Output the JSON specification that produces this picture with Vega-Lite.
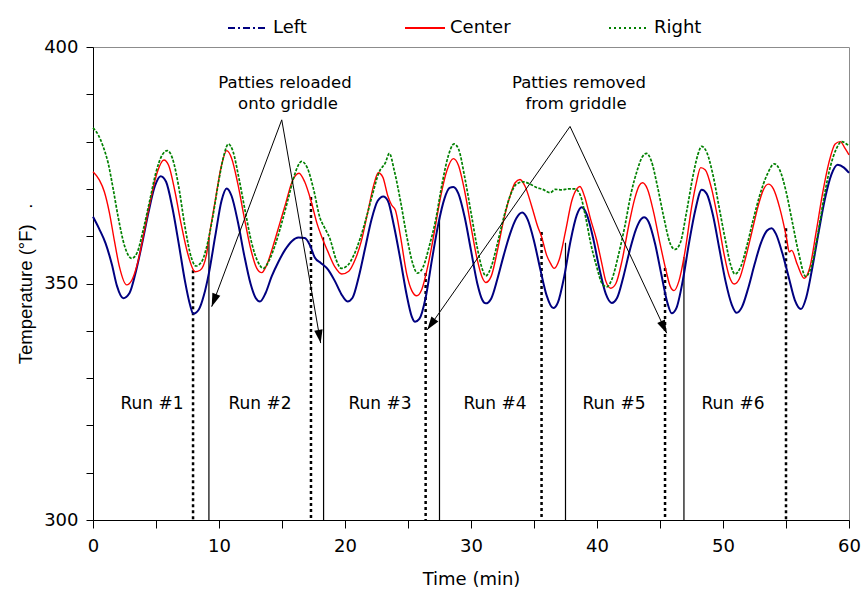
{
  "$schema": "https://vega.github.io/schema/vega-lite/v6.json",
  "width": 756,
  "height": 473,
  "autosize": {"type": "none"},
  "padding": {"left": 93, "top": 47, "right": 17, "bottom": 76},
  "background": "white",
  "config": {
    "font": "DejaVu Sans",
    "view": {"stroke": "#8c8c8c", "strokeWidth": 1},
    "axis": {"grid": false, "domainColor": "black", "tickColor": "black", "labelColor": "black", "titleColor": "black", "labelFont": "DejaVu Sans", "labelFontSize": 18, "titleFont": "DejaVu Sans", "titleFontSize": 18, "titleFontWeight": "normal", "labelOverlap": false, "labelFlush": false}
  },
  "datasets": {
    "temps": [
      {"s":"Left","t":0,"v":364.1},{"s":"Left","t":0.5,"v":361.5},{"s":"Left","t":1.0,"v":358.5},{"s":"Left","t":1.5,"v":354},{"s":"Left","t":1.9,"v":349.5},{"s":"Left","t":2.4,"v":346.9},{"s":"Left","t":2.9,"v":348},{"s":"Left","t":3.4,"v":352.5},{"s":"Left","t":3.9,"v":358.5},{"s":"Left","t":4.4,"v":365},{"s":"Left","t":4.9,"v":370.5},{"s":"Left","t":5.37,"v":372.7},{"s":"Left","t":5.8,"v":371.5},{"s":"Left","t":6.3,"v":366},{"s":"Left","t":6.8,"v":358.5},{"s":"Left","t":7.3,"v":350.5},{"s":"Left","t":7.7,"v":345.5},{"s":"Left","t":7.96,"v":343.6},{"s":"Left","t":8.4,"v":344.5},{"s":"Left","t":8.8,"v":347.5},{"s":"Left","t":9.2,"v":352.2},{"s":"Left","t":9.7,"v":360},{"s":"Left","t":10.2,"v":367.5},{"s":"Left","t":10.61,"v":370.1},{"s":"Left","t":11.0,"v":368.5},{"s":"Left","t":11.5,"v":363},{"s":"Left","t":12.0,"v":356},{"s":"Left","t":12.5,"v":350},{"s":"Left","t":12.9,"v":347},{"s":"Left","t":13.25,"v":346.2},{"s":"Left","t":13.7,"v":348},{"s":"Left","t":14.18,"v":351.5},{"s":"Left","t":14.7,"v":354.5},{"s":"Left","t":15.24,"v":357.1},{"s":"Left","t":15.8,"v":359},{"s":"Left","t":16.3,"v":359.7},{"s":"Left","t":16.8,"v":359.6},{"s":"Left","t":17.2,"v":358.2},{"s":"Left","t":17.6,"v":355.5},{"s":"Left","t":18.1,"v":354.3},{"s":"Left","t":18.67,"v":352.9},{"s":"Left","t":19.2,"v":350.5},{"s":"Left","t":19.7,"v":347.8},{"s":"Left","t":20.2,"v":346.2},{"s":"Left","t":20.6,"v":347},{"s":"Left","t":21.1,"v":351.5},{"s":"Left","t":21.6,"v":357.5},{"s":"Left","t":22.1,"v":363.5},{"s":"Left","t":22.6,"v":367.5},{"s":"Left","t":23.04,"v":368.4},{"s":"Left","t":23.4,"v":367.5},{"s":"Left","t":23.9,"v":362},{"s":"Left","t":24.4,"v":355},{"s":"Left","t":24.9,"v":347.5},{"s":"Left","t":25.3,"v":343},{"s":"Left","t":25.56,"v":341.9},{"s":"Left","t":25.9,"v":342.5},{"s":"Left","t":26.4,"v":347},{"s":"Left","t":26.9,"v":355},{"s":"Left","t":27.4,"v":362.5},{"s":"Left","t":27.9,"v":368},{"s":"Left","t":28.3,"v":370.2},{"s":"Left","t":28.6,"v":370.4},{"s":"Left","t":29.0,"v":369},{"s":"Left","t":29.5,"v":364},{"s":"Left","t":30.0,"v":357},{"s":"Left","t":30.5,"v":350},{"s":"Left","t":30.9,"v":346.5},{"s":"Left","t":31.17,"v":345.8},{"s":"Left","t":31.6,"v":346.8},{"s":"Left","t":32.1,"v":351},{"s":"Left","t":32.6,"v":356},{"s":"Left","t":33.1,"v":360.5},{"s":"Left","t":33.6,"v":363.8},{"s":"Left","t":34.07,"v":365},{"s":"Left","t":34.5,"v":363.5},{"s":"Left","t":35.0,"v":359},{"s":"Left","t":35.5,"v":353},{"s":"Left","t":36.0,"v":347.5},{"s":"Left","t":36.53,"v":344.8},{"s":"Left","t":36.9,"v":346},{"s":"Left","t":37.4,"v":351.5},{"s":"Left","t":37.9,"v":359},{"s":"Left","t":38.4,"v":364.5},{"s":"Left","t":38.78,"v":366.1},{"s":"Left","t":39.2,"v":364.5},{"s":"Left","t":39.7,"v":359.5},{"s":"Left","t":40.2,"v":353},{"s":"Left","t":40.7,"v":347.8},{"s":"Left","t":41.17,"v":345.9},{"s":"Left","t":41.6,"v":347},{"s":"Left","t":42.1,"v":351.5},{"s":"Left","t":42.6,"v":357},{"s":"Left","t":43.1,"v":361.5},{"s":"Left","t":43.5,"v":363.6},{"s":"Left","t":43.73,"v":364},{"s":"Left","t":44.1,"v":363},{"s":"Left","t":44.6,"v":358.5},{"s":"Left","t":45.1,"v":352},{"s":"Left","t":45.6,"v":345.8},{"s":"Left","t":45.93,"v":343.7},{"s":"Left","t":46.3,"v":344.8},{"s":"Left","t":46.8,"v":350.5},{"s":"Left","t":47.3,"v":358.5},{"s":"Left","t":47.8,"v":365.5},{"s":"Left","t":48.31,"v":369.8},{"s":"Left","t":48.7,"v":369},{"s":"Left","t":49.2,"v":364.5},{"s":"Left","t":49.7,"v":357.5},{"s":"Left","t":50.2,"v":350.5},{"s":"Left","t":50.7,"v":345.5},{"s":"Left","t":51.09,"v":343.8},{"s":"Left","t":51.5,"v":345},{"s":"Left","t":52.0,"v":349},{"s":"Left","t":52.5,"v":354},{"s":"Left","t":53.0,"v":358.5},{"s":"Left","t":53.5,"v":361.2},{"s":"Left","t":53.86,"v":361.7},{"s":"Left","t":54.2,"v":360.5},{"s":"Left","t":54.7,"v":356.5},{"s":"Left","t":55.2,"v":351.5},{"s":"Left","t":55.7,"v":346.5},{"s":"Left","t":56.19,"v":344.6},{"s":"Left","t":56.6,"v":347},{"s":"Left","t":57.1,"v":353.5},{"s":"Left","t":57.6,"v":361},{"s":"Left","t":58.1,"v":368},{"s":"Left","t":58.6,"v":373},{"s":"Left","t":59.1,"v":375.1},{"s":"Left","t":59.6,"v":374.5},{"s":"Left","t":60,"v":373.4},
      {"s":"Center","t":0,"v":373.6},{"s":"Center","t":0.5,"v":371.9},{"s":"Center","t":0.9,"v":369.4},{"s":"Center","t":1.3,"v":365},{"s":"Center","t":1.7,"v":359},{"s":"Center","t":2.1,"v":353.5},{"s":"Center","t":2.67,"v":349.7},{"s":"Center","t":3.1,"v":350.8},{"s":"Center","t":3.6,"v":355},{"s":"Center","t":4.1,"v":361.5},{"s":"Center","t":4.6,"v":368},{"s":"Center","t":5.1,"v":373.5},{"s":"Center","t":5.63,"v":376.1},{"s":"Center","t":6.0,"v":375},{"s":"Center","t":6.5,"v":369.5},{"s":"Center","t":7.0,"v":362.5},{"s":"Center","t":7.5,"v":356.5},{"s":"Center","t":8.1,"v":352.5},{"s":"Center","t":8.5,"v":352.8},{"s":"Center","t":9.0,"v":356},{"s":"Center","t":9.2,"v":359.6},{"s":"Center","t":9.7,"v":367.5},{"s":"Center","t":10.2,"v":375},{"s":"Center","t":10.61,"v":378.1},{"s":"Center","t":11.0,"v":376.5},{"s":"Center","t":11.5,"v":371},{"s":"Center","t":12.0,"v":364},{"s":"Center","t":12.5,"v":357.5},{"s":"Center","t":13.0,"v":353.2},{"s":"Center","t":13.39,"v":352.3},{"s":"Center","t":13.8,"v":354},{"s":"Center","t":14.3,"v":358},{"s":"Center","t":14.8,"v":362.5},{"s":"Center","t":15.3,"v":367},{"s":"Center","t":15.8,"v":371.5},{"s":"Center","t":16.35,"v":373.3},{"s":"Center","t":16.8,"v":371.5},{"s":"Center","t":17.3,"v":367.5},{"s":"Center","t":17.8,"v":362.5},{"s":"Center","t":18.15,"v":359.9},{"s":"Center","t":18.6,"v":357},{"s":"Center","t":19.2,"v":353.5},{"s":"Center","t":19.74,"v":352},{"s":"Center","t":20.3,"v":352.6},{"s":"Center","t":20.8,"v":355},{"s":"Center","t":21.3,"v":359},{"s":"Center","t":21.8,"v":365},{"s":"Center","t":22.3,"v":371},{"s":"Center","t":22.64,"v":373.4},{"s":"Center","t":23.0,"v":372.5},{"s":"Center","t":23.4,"v":368.5},{"s":"Center","t":23.7,"v":366.6},{"s":"Center","t":24.0,"v":365.5},{"s":"Center","t":24.4,"v":360},{"s":"Center","t":24.9,"v":352},{"s":"Center","t":25.3,"v":348.5},{"s":"Center","t":25.69,"v":347.4},{"s":"Center","t":26.1,"v":348.8},{"s":"Center","t":26.6,"v":354},{"s":"Center","t":27.1,"v":361},{"s":"Center","t":27.6,"v":368.5},{"s":"Center","t":28.1,"v":374},{"s":"Center","t":28.6,"v":376.4},{"s":"Center","t":29.0,"v":375},{"s":"Center","t":29.5,"v":369.5},{"s":"Center","t":30.0,"v":362},{"s":"Center","t":30.5,"v":355},{"s":"Center","t":30.9,"v":351.2},{"s":"Center","t":31.17,"v":350.2},{"s":"Center","t":31.6,"v":351.5},{"s":"Center","t":32.1,"v":357},{"s":"Center","t":32.6,"v":363.5},{"s":"Center","t":33.1,"v":368.5},{"s":"Center","t":33.5,"v":371.3},{"s":"Center","t":33.89,"v":372},{"s":"Center","t":34.3,"v":370.5},{"s":"Center","t":34.8,"v":366.5},{"s":"Center","t":35.3,"v":362},{"s":"Center","t":35.6,"v":359.9},{"s":"Center","t":36.0,"v":356},{"s":"Center","t":36.3,"v":354.3},{"s":"Center","t":36.6,"v":353.2},{"s":"Center","t":37.0,"v":355},{"s":"Center","t":37.5,"v":361},{"s":"Center","t":38.0,"v":367.5},{"s":"Center","t":38.4,"v":370},{"s":"Center","t":38.65,"v":370.5},{"s":"Center","t":39.0,"v":368.5},{"s":"Center","t":39.5,"v":363.5},{"s":"Center","t":39.97,"v":359.2},{"s":"Center","t":40.4,"v":354},{"s":"Center","t":40.7,"v":350.5},{"s":"Center","t":41.09,"v":349},{"s":"Center","t":41.5,"v":350},{"s":"Center","t":42.0,"v":355},{"s":"Center","t":42.5,"v":362},{"s":"Center","t":43.0,"v":368},{"s":"Center","t":43.35,"v":370.7},{"s":"Center","t":43.62,"v":371.3},{"s":"Center","t":44.0,"v":370},{"s":"Center","t":44.5,"v":365},{"s":"Center","t":45.0,"v":358.5},{"s":"Center","t":45.5,"v":352.5},{"s":"Center","t":45.8,"v":349.5},{"s":"Center","t":46.11,"v":348.5},{"s":"Center","t":46.5,"v":350.5},{"s":"Center","t":47.0,"v":357},{"s":"Center","t":47.5,"v":366},{"s":"Center","t":47.9,"v":371.5},{"s":"Center","t":48.23,"v":374.5},{"s":"Center","t":48.6,"v":374},{"s":"Center","t":49.1,"v":370},{"s":"Center","t":49.6,"v":363.5},{"s":"Center","t":50.1,"v":356},{"s":"Center","t":50.5,"v":351.5},{"s":"Center","t":50.9,"v":349.9},{"s":"Center","t":51.3,"v":351},{"s":"Center","t":51.8,"v":355.5},{"s":"Center","t":52.3,"v":361},{"s":"Center","t":52.8,"v":366.5},{"s":"Center","t":53.2,"v":369.8},{"s":"Center","t":53.6,"v":371},{"s":"Center","t":54.0,"v":370},{"s":"Center","t":54.5,"v":366},{"s":"Center","t":55.05,"v":359.5},{"s":"Center","t":55.25,"v":356.7},{"s":"Center","t":55.45,"v":357},{"s":"Center","t":55.9,"v":354},{"s":"Center","t":56.45,"v":351.1},{"s":"Center","t":56.9,"v":353.5},{"s":"Center","t":57.4,"v":361},{"s":"Center","t":57.9,"v":369},{"s":"Center","t":58.4,"v":375.5},{"s":"Center","t":58.9,"v":379.5},{"s":"Center","t":59.3,"v":380},{"s":"Center","t":59.7,"v":378.5},{"s":"Center","t":60,"v":377.2},
      {"s":"Right","t":0,"v":382.9},{"s":"Right","t":0.4,"v":381.5},{"s":"Right","t":0.8,"v":379},{"s":"Right","t":1.2,"v":375.5},{"s":"Right","t":1.6,"v":370},{"s":"Right","t":2.0,"v":364},{"s":"Right","t":2.5,"v":358},{"s":"Right","t":3.07,"v":355.3},{"s":"Right","t":3.5,"v":356.5},{"s":"Right","t":4.0,"v":361.5},{"s":"Right","t":4.5,"v":367.5},{"s":"Right","t":5.0,"v":373.5},{"s":"Right","t":5.5,"v":377.2},{"s":"Right","t":5.9,"v":378.1},{"s":"Right","t":6.3,"v":376.5},{"s":"Right","t":6.8,"v":370.5},{"s":"Right","t":7.3,"v":362},{"s":"Right","t":7.8,"v":355.5},{"s":"Right","t":8.17,"v":353.7},{"s":"Right","t":8.6,"v":354.5},{"s":"Right","t":9.0,"v":357.5},{"s":"Right","t":9.5,"v":364},{"s":"Right","t":10.0,"v":372},{"s":"Right","t":10.4,"v":377.2},{"s":"Right","t":10.74,"v":379.5},{"s":"Right","t":11.1,"v":378},{"s":"Right","t":11.6,"v":372},{"s":"Right","t":12.1,"v":365},{"s":"Right","t":12.6,"v":358.5},{"s":"Right","t":13.1,"v":354.5},{"s":"Right","t":13.52,"v":353.2},{"s":"Right","t":14.0,"v":355},{"s":"Right","t":14.5,"v":358.5},{"s":"Right","t":15.0,"v":363},{"s":"Right","t":15.5,"v":368},{"s":"Right","t":16.0,"v":373},{"s":"Right","t":16.56,"v":375.8},{"s":"Right","t":17.0,"v":374.5},{"s":"Right","t":17.5,"v":370},{"s":"Right","t":18.0,"v":364},{"s":"Right","t":18.4,"v":361.7},{"s":"Right","t":18.8,"v":359.5},{"s":"Right","t":19.3,"v":355},{"s":"Right","t":19.7,"v":353.2},{"s":"Right","t":20.2,"v":353.8},{"s":"Right","t":20.7,"v":356},{"s":"Right","t":21.2,"v":359.5},{"s":"Right","t":21.7,"v":364},{"s":"Right","t":22.2,"v":369},{"s":"Right","t":22.7,"v":373.5},{"s":"Right","t":23.2,"v":375.5},{"s":"Right","t":23.52,"v":377.5},{"s":"Right","t":23.9,"v":374},{"s":"Right","t":24.4,"v":367.5},{"s":"Right","t":24.9,"v":360},{"s":"Right","t":25.4,"v":354},{"s":"Right","t":25.74,"v":352.2},{"s":"Right","t":26.2,"v":353.5},{"s":"Right","t":26.7,"v":358},{"s":"Right","t":27.2,"v":363.5},{"s":"Right","t":27.7,"v":371},{"s":"Right","t":28.2,"v":377},{"s":"Right","t":28.65,"v":379.5},{"s":"Right","t":29.0,"v":378.5},{"s":"Right","t":29.5,"v":372.5},{"s":"Right","t":30.0,"v":365},{"s":"Right","t":30.5,"v":357.5},{"s":"Right","t":30.9,"v":353},{"s":"Right","t":31.17,"v":351.6},{"s":"Right","t":31.6,"v":353.5},{"s":"Right","t":32.1,"v":358.5},{"s":"Right","t":32.6,"v":364},{"s":"Right","t":33.1,"v":368.5},{"s":"Right","t":33.6,"v":371},{"s":"Right","t":34.15,"v":371.5},{"s":"Right","t":34.7,"v":371},{"s":"Right","t":35.2,"v":370.3},{"s":"Right","t":35.7,"v":369.9},{"s":"Right","t":36.27,"v":369.2},{"s":"Right","t":36.7,"v":369.9},{"s":"Right","t":37.2,"v":369.8},{"s":"Right","t":37.7,"v":370},{"s":"Right","t":38.25,"v":370},{"s":"Right","t":38.7,"v":368.5},{"s":"Right","t":39.1,"v":364},{"s":"Right","t":39.5,"v":358.5},{"s":"Right","t":39.97,"v":353.6},{"s":"Right","t":40.4,"v":350},{"s":"Right","t":40.77,"v":349.3},{"s":"Right","t":41.2,"v":351},{"s":"Right","t":41.7,"v":356},{"s":"Right","t":42.2,"v":362},{"s":"Right","t":42.7,"v":369},{"s":"Right","t":43.2,"v":374},{"s":"Right","t":43.6,"v":376.8},{"s":"Right","t":43.94,"v":377.5},{"s":"Right","t":44.3,"v":376},{"s":"Right","t":44.8,"v":370.5},{"s":"Right","t":45.3,"v":364},{"s":"Right","t":45.8,"v":358.5},{"s":"Right","t":46.19,"v":357.2},{"s":"Right","t":46.6,"v":358.5},{"s":"Right","t":47.1,"v":365},{"s":"Right","t":47.6,"v":372.5},{"s":"Right","t":48.0,"v":377.2},{"s":"Right","t":48.3,"v":379},{"s":"Right","t":48.7,"v":377.8},{"s":"Right","t":49.2,"v":373},{"s":"Right","t":49.7,"v":366},{"s":"Right","t":50.2,"v":359},{"s":"Right","t":50.6,"v":354},{"s":"Right","t":50.95,"v":352},{"s":"Right","t":51.4,"v":353.5},{"s":"Right","t":51.9,"v":358},{"s":"Right","t":52.4,"v":363.5},{"s":"Right","t":52.9,"v":368.5},{"s":"Right","t":53.5,"v":373},{"s":"Right","t":54.07,"v":375.3},{"s":"Right","t":54.5,"v":374},{"s":"Right","t":55.0,"v":369.5},{"s":"Right","t":55.5,"v":363},{"s":"Right","t":56.0,"v":356.5},{"s":"Right","t":56.56,"v":351.5},{"s":"Right","t":57.0,"v":353.5},{"s":"Right","t":57.5,"v":360},{"s":"Right","t":58.0,"v":368},{"s":"Right","t":58.5,"v":374.5},{"s":"Right","t":59.0,"v":378.5},{"s":"Right","t":59.42,"v":380},{"s":"Right","t":59.8,"v":379.5},{"s":"Right","t":60,"v":379.1}
    ],
    "dotted": [{"t":7.94,"top":352.8},{"t":17.3,"top":368.3},{"t":26.4,"top":352.2},{"t":35.6,"top":360.9},{"t":45.4,"top":353.3},{"t":55.0,"top":361.7}],
    "solid": [{"t":9.2,"top":359.6},{"t":18.3,"top":359.8},{"t":27.5,"top":364},{"t":37.5,"top":358.6},{"t":46.9,"top":355.6}],
    "runs": [{"t":4.68,"v":324.5,"label":"Run #1"},{"t":13.25,"v":324.5,"label":"Run #2"},{"t":22.78,"v":324.5,"label":"Run #3"},{"t":31.9,"v":324.5,"label":"Run #4"},{"t":41.35,"v":324.5,"label":"Run #5"},{"t":50.79,"v":324.5,"label":"Run #6"}],
    "notes": [{"t":15.24,"v":392.3,"label":"Patties reloaded"},{"t":15.48,"v":387.9,"label":"onto griddle"},{"t":38.57,"v":392.3,"label":"Patties removed"},{"t":38.33,"v":387.9,"label":"from griddle"}],
    "arrows": [{"x":14.98,"y":384.6,"x2":9.42,"y2":345.1,"a":200.6},{"x":14.98,"y":384.6,"x2":18.07,"y2":337.4,"a":170.1},{"x":37.86,"y":383.2,"x2":26.53,"y2":340.2,"a":215.1},{"x":37.86,"y":383.2,"x2":45.53,"y2":339.5,"a":154.9}]
  },
  "layer": [
    {
      "data": {"name": "dotted"},
      "mark": {"type": "rule", "color": "black", "strokeWidth": 2.5, "strokeDash": [3, 3]},
      "encoding": {
        "x": {"field": "t", "type": "quantitative", "scale": {"domain": [0, 60], "nice": false},
          "axis": {"values": [0,2.5,5,7.5,10,12.5,15,17.5,20,22.5,25,27.5,30,32.5,35,37.5,40,42.5,45,47.5,50,52.5,55,57.5,60], "labelExpr": "datum.value % 10 === 0 ? datum.label : ''", "tickSize": 8, "labelPadding": 9, "title": "Time (min)", "titlePadding": 15, "encode": {"ticks": {"update": {"y2": {"signal": "datum.value % 10 === 0 ? 8 : 5"}}}}}},
        "y": {"field": "top", "type": "quantitative", "scale": {"domain": [300, 400], "nice": false, "zero": false},
          "axis": {"values": [300,305,310,315,320,325,330,335,340,345,350,355,360,365,370,375,380,385,390,395,400], "labelExpr": "datum.value % 25 === 0 ? datum.label : ''", "tickSize": 7, "labelPadding": 8, "title": "Temperature (°F)\u00a0\u00a0\u00a0.", "titleFont": "Liberation Sans", "titleFontSize": 18.5, "titlePadding": 8, "encode": {"ticks": {"update": {"x2": {"signal": "datum.value % 25 === 0 ? -7 : -4"}}}}}},
        "y2": {"datum": 300}
      }
    },
    {
      "data": {"name": "solid"},
      "mark": {"type": "rule", "color": "black", "strokeWidth": 1.2},
      "encoding": {
        "x": {"field": "t", "type": "quantitative"},
        "y": {"field": "top", "type": "quantitative"},
        "y2": {"datum": 300}
      }
    },
    {
      "data": {"name": "temps"},
      "transform": [{"filter": "datum.s === 'Left'"}],
      "mark": {"type": "line", "interpolate": "monotone", "strokeWidth": 2},
      "encoding": {
        "x": {"field": "t", "type": "quantitative"},
        "y": {"field": "v", "type": "quantitative"},
        "color": {"field": "s", "type": "nominal", "sort": null,
          "scale": {"domain": ["Left", "Center", "Right"], "range": ["#000080", "#ff0000", "#008000"]},
          "legend": {"title": null, "orient": "none", "direction": "horizontal", "legendX": 134, "legendY": -40, "symbolType": "stroke", "symbolSize": 1600, "symbolStrokeWidth": 2, "labelFont": "DejaVu Sans", "labelFontSize": 18, "labelColor": "black", "labelOffset": 4, "columnPadding": 94, "padding": 0,
            "encode": {"symbols": {"update": {"strokeDash": {"signal": "datum.value === 'Left' ? [7,3,2,3] : datum.value === 'Right' ? [2,3] : [1,0]"}}}}}}
      }
    },
    {
      "data": {"name": "temps"},
      "transform": [{"filter": "datum.s === 'Center'"}],
      "mark": {"type": "line", "interpolate": "monotone", "strokeWidth": 1.4},
      "encoding": {
        "x": {"field": "t", "type": "quantitative"},
        "y": {"field": "v", "type": "quantitative"},
        "color": {"field": "s", "type": "nominal", "sort": null}
      }
    },
    {
      "data": {"name": "temps"},
      "transform": [{"filter": "datum.s === 'Right'"}],
      "mark": {"type": "line", "interpolate": "monotone", "strokeWidth": 1.7, "strokeDash": [3, 1.5]},
      "encoding": {
        "x": {"field": "t", "type": "quantitative"},
        "y": {"field": "v", "type": "quantitative"},
        "color": {"field": "s", "type": "nominal", "sort": null}
      }
    },
    {
      "data": {"name": "runs"},
      "mark": {"type": "text", "font": "DejaVu Sans", "fontSize": 17, "color": "black", "baseline": "middle", "align": "center"},
      "encoding": {
        "x": {"field": "t", "type": "quantitative"},
        "y": {"field": "v", "type": "quantitative"},
        "text": {"field": "label"}
      }
    },
    {
      "data": {"name": "notes"},
      "mark": {"type": "text", "font": "DejaVu Sans", "fontSize": 16.5, "color": "black", "baseline": "middle", "align": "center"},
      "encoding": {
        "x": {"field": "t", "type": "quantitative"},
        "y": {"field": "v", "type": "quantitative"},
        "text": {"field": "label"}
      }
    },
    {
      "data": {"name": "arrows"},
      "mark": {"type": "rule", "color": "black", "strokeWidth": 1},
      "encoding": {
        "x": {"field": "x", "type": "quantitative"},
        "y": {"field": "y", "type": "quantitative"},
        "x2": {"field": "x2"},
        "y2": {"field": "y2"}
      }
    },
    {
      "data": {"name": "arrows"},
      "mark": {"type": "point", "filled": true, "color": "black", "opacity": 1, "size": 700, "shape": "M0,0L-0.32,1L0.32,1Z"},
      "encoding": {
        "x": {"field": "x2", "type": "quantitative"},
        "y": {"field": "y2", "type": "quantitative"},
        "angle": {"field": "a", "type": "quantitative", "scale": null}
      }
    }
  ]
}
